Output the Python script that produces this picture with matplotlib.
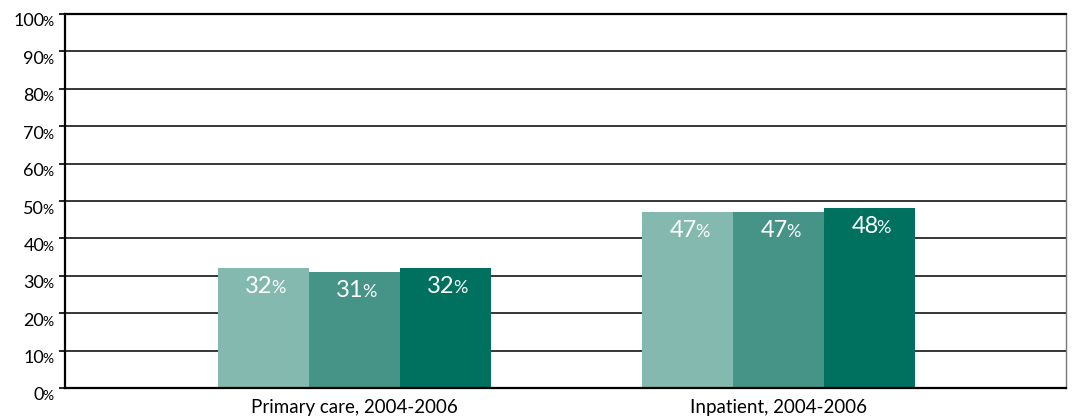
import numpy as np
import matplotlib.pyplot as plt

# data
categories = ['Primary care, 2004-2006', 'Inpatient, 2004-2006']
series_a = [32, 47]
series_b = [31, 47]
series_c = [32, 48]
yticks = [0, 10, 20, 30, 40, 50, 60, 70, 80, 90, 100]

colors = ['#83b9ae', '#459487', '#00715f']

plt.rcParams['font.family'] = ['Lato', 'DejaVu Sans']

fig = plt.figure(figsize=(10.73, 4.17), dpi=100)
ax = fig.add_axes([65 / 1073, 1 - 388 / 417, 1001 / 1073, 374 / 417])

x = np.arange(len(categories))
w = 0.2146
for i, (vals, col) in enumerate(zip([series_a, series_b, series_c], colors)):
    pos = x + (i - 1) * w
    ax.bar(pos, vals, width=w, color=col, zorder=2)
    for px, v in zip(pos, vals):
        # number + smaller percent sign, white, inside top of bar
        ax.annotate(str(v), (px, v), xytext=(7, -18), textcoords='offset points',
                    ha='right', va='baseline', color='white', fontsize=17)
        ax.annotate('%', (px, v), xytext=(5.5, -18), textcoords='offset points',
                    ha='left', va='baseline', color='white', fontsize=13)

ax.set_xlim(-0.682, 1.679)
ax.set_ylim(0, 100)
ax.set_yticks(yticks)
ax.set_yticklabels([])
ax.tick_params(axis='y', length=4, width=1.2, color='black')
for t in yticks:
    ax.annotate(str(t), (0, t), xycoords=('axes fraction', 'data'),
                xytext=(-15, -9), textcoords='offset points',
                ha='right', va='baseline', fontsize=13)
    ax.annotate('%', (0, t), xycoords=('axes fraction', 'data'),
                xytext=(-16, -9), textcoords='offset points',
                ha='left', va='baseline', fontsize=10)
    if 0 < t < 100:
        ax.axhline(t, color='black', lw=1.1, zorder=1)

ax.set_xticks(x)
ax.set_xticklabels(categories, fontsize=13.5)
ax.tick_params(axis='x', length=0, pad=8)

for s in ['left', 'bottom', 'top']:
    ax.spines[s].set_linewidth(1.6)
    ax.spines[s].set_color('black')
ax.spines['right'].set_color('#777777')
ax.spines['right'].set_linewidth(1.0)

fig.savefig('out.png', dpi=100)
